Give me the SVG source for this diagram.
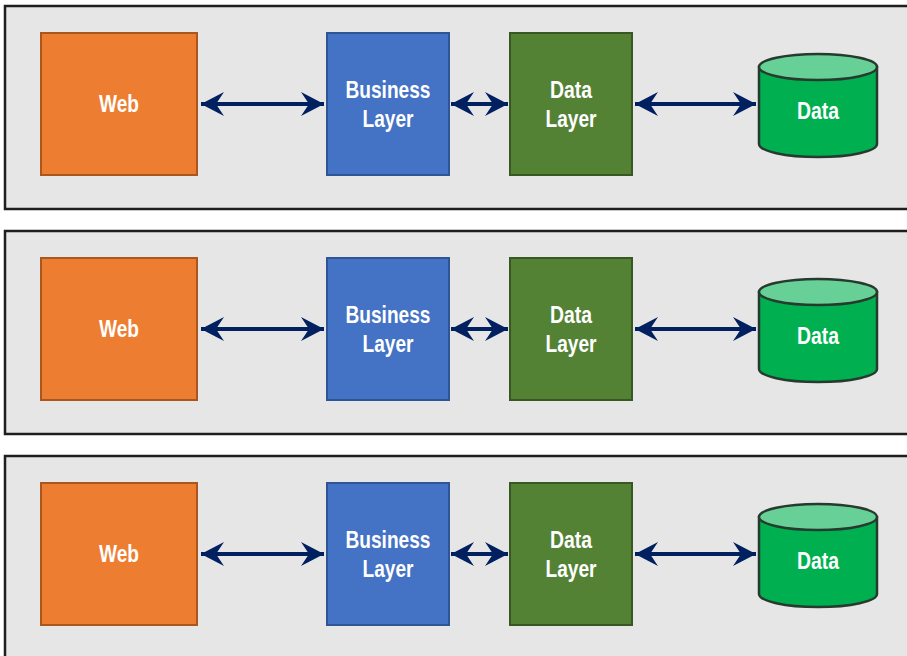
<svg xmlns="http://www.w3.org/2000/svg" width="907" height="656" viewBox="0 0 907 656">
<style>
.panel{fill:#e6e6e6;stroke:#1e1e1e;stroke-width:2.5}
.web{fill:#ed7d31;stroke:#a9561f;stroke-width:2}
.biz{fill:#4472c4;stroke:#2f5597;stroke-width:2}
.dl{fill:#548235;stroke:#385723;stroke-width:2}
.cyl{fill:#00b050;stroke:#263a2e;stroke-width:2.5}
.cyltop{fill:#66d096;stroke:#263a2e;stroke-width:2.5}
.lbl{fill:#ffffff;font-family:"Liberation Sans",Arial,sans-serif;font-weight:bold;font-size:24px;text-anchor:middle}
.conn{stroke:#002060;stroke-width:4;fill:none;marker-start:url(#ah);marker-end:url(#ah)}
</style>
<defs>
<marker id="ah" markerUnits="userSpaceOnUse" viewBox="-24 -13 26 26" refX="0" refY="0" markerWidth="26" markerHeight="26" orient="auto-start-reverse">
<path d="M0,0 L-23,-12 L-15,0 L-23,12 Z" fill="#002060"/>
</marker>
</defs>

<g id="panel1">
<rect class="panel" x="5" y="6" width="920" height="203"/>
<g id="web1"><rect class="web" x="41" y="33" width="156" height="142"/><text class="lbl" x="119" y="112" textLength="40" lengthAdjust="spacingAndGlyphs">Web</text></g>
<g id="business1"><rect class="biz" x="327" y="33" width="122" height="142"/><text class="lbl" x="388" y="98" textLength="85" lengthAdjust="spacingAndGlyphs">Business</text><text class="lbl" x="388" y="127" textLength="51" lengthAdjust="spacingAndGlyphs">Layer</text></g>
<g id="datalayer1"><rect class="dl" x="510" y="33" width="122" height="142"/><text class="lbl" x="571" y="98" textLength="42" lengthAdjust="spacingAndGlyphs">Data</text><text class="lbl" x="571" y="127" textLength="51" lengthAdjust="spacingAndGlyphs">Layer</text></g>
<g id="datastore1"><path class="cyl" d="M759,67 L759,144 A59,13 0 0 0 877,144 L877,67 Z"/><ellipse class="cyltop" cx="818" cy="67" rx="59" ry="13"/><text class="lbl" x="818" y="119" textLength="42" lengthAdjust="spacingAndGlyphs">Data</text></g>
<g id="connectors1">
<line class="conn" x1="201" y1="104" x2="324" y2="104"/>
<line class="conn" x1="451" y1="104" x2="508" y2="104"/>
<line class="conn" x1="635" y1="104" x2="756" y2="104"/>
</g>
</g>

<g id="panel2">
<rect class="panel" x="5" y="231" width="920" height="203"/>
<g id="web2"><rect class="web" x="41" y="258" width="156" height="142"/><text class="lbl" x="119" y="337" textLength="40" lengthAdjust="spacingAndGlyphs">Web</text></g>
<g id="business2"><rect class="biz" x="327" y="258" width="122" height="142"/><text class="lbl" x="388" y="323" textLength="85" lengthAdjust="spacingAndGlyphs">Business</text><text class="lbl" x="388" y="352" textLength="51" lengthAdjust="spacingAndGlyphs">Layer</text></g>
<g id="datalayer2"><rect class="dl" x="510" y="258" width="122" height="142"/><text class="lbl" x="571" y="323" textLength="42" lengthAdjust="spacingAndGlyphs">Data</text><text class="lbl" x="571" y="352" textLength="51" lengthAdjust="spacingAndGlyphs">Layer</text></g>
<g id="datastore2"><path class="cyl" d="M759,292 L759,369 A59,13 0 0 0 877,369 L877,292 Z"/><ellipse class="cyltop" cx="818" cy="292" rx="59" ry="13"/><text class="lbl" x="818" y="344" textLength="42" lengthAdjust="spacingAndGlyphs">Data</text></g>
<g id="connectors2">
<line class="conn" x1="201" y1="329" x2="324" y2="329"/>
<line class="conn" x1="451" y1="329" x2="508" y2="329"/>
<line class="conn" x1="635" y1="329" x2="756" y2="329"/>
</g>
</g>

<g id="panel3">
<rect class="panel" x="5" y="456" width="920" height="220"/>
<g id="web3"><rect class="web" x="41" y="483" width="156" height="142"/><text class="lbl" x="119" y="562" textLength="40" lengthAdjust="spacingAndGlyphs">Web</text></g>
<g id="business3"><rect class="biz" x="327" y="483" width="122" height="142"/><text class="lbl" x="388" y="548" textLength="85" lengthAdjust="spacingAndGlyphs">Business</text><text class="lbl" x="388" y="577" textLength="51" lengthAdjust="spacingAndGlyphs">Layer</text></g>
<g id="datalayer3"><rect class="dl" x="510" y="483" width="122" height="142"/><text class="lbl" x="571" y="548" textLength="42" lengthAdjust="spacingAndGlyphs">Data</text><text class="lbl" x="571" y="577" textLength="51" lengthAdjust="spacingAndGlyphs">Layer</text></g>
<g id="datastore3"><path class="cyl" d="M759,517 L759,594 A59,13 0 0 0 877,594 L877,517 Z"/><ellipse class="cyltop" cx="818" cy="517" rx="59" ry="13"/><text class="lbl" x="818" y="569" textLength="42" lengthAdjust="spacingAndGlyphs">Data</text></g>
<g id="connectors3">
<line class="conn" x1="201" y1="554" x2="324" y2="554"/>
<line class="conn" x1="451" y1="554" x2="508" y2="554"/>
<line class="conn" x1="635" y1="554" x2="756" y2="554"/>
</g>
</g>
</svg>
